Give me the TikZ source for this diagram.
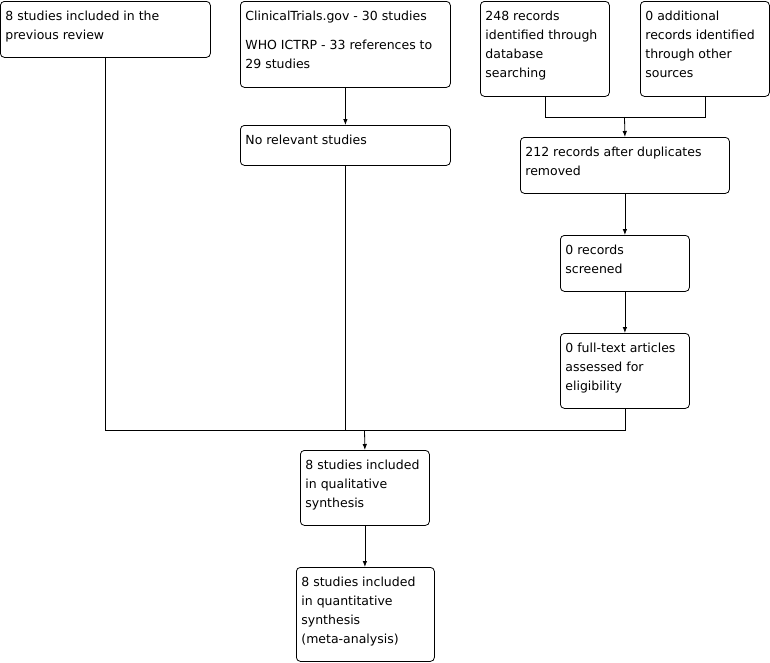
\documentclass[tikz,border=0pt]{standalone}
\usepackage{fontspec}
\setmainfont{DejaVu Sans}
\usetikzlibrary{arrows.meta}

% text of a box: width, height, lines (set from the top left)
\newcommand{\boxtext}[3]{\parbox[c][#2][t]{#1}{\fontsize{12.5}{19}\selectfont\leftskip=5pt\rule{0pt}{19.5pt}#3}}

\begin{document}
\begin{tikzpicture}[x=1pt, y=-1pt, line width=0.8pt,
    box/.style={draw, rounded corners=4pt, inner sep=0pt, anchor=north west},
    arr/.style={-{Latex[length=6pt,width=4.5pt]}}]
    \useasboundingbox (0,0) rectangle (770,662);
    % sources
    \node[box] (prev) at (0,1) {\boxtext{210pt}{56pt}{8 studies included in the\\previous review}};
    \node[box] (trials) at (240,1) {\boxtext{210pt}{86pt}{ClinicalTrials.gov - 30 studies\\[10pt]WHO ICTRP - 33 references to\\29 studies}};
    \node[box] (norel) at (240,125) {\boxtext{210pt}{40pt}{No relevant studies}};
    \node[box] (dbase) at (480,1) {\boxtext{129pt}{95pt}{248 records\\identified through\\database\\searching}};
    \node[box] (other) at (640,1) {\boxtext{129pt}{95pt}{0 additional\\records identified\\through other\\sources}};
    % screening
    \node[box] (dupl) at (520,137) {\boxtext{209pt}{56pt}{212 records after duplicates\\removed}};
    \node[box] (screen) at (560,235) {\boxtext{129pt}{56pt}{0 records\\screened}};
    \node[box] (full) at (560,333) {\boxtext{129pt}{75pt}{0 full-text articles\\assessed for\\eligibility}};
    % included
    \node[box] (qual) at (300,450) {\boxtext{129pt}{75pt}{8 studies included\\in qualitative\\synthesis}};
    \node[box] (quant) at (296,567) {\boxtext{138pt}{94pt}{8 studies included\\in quantitative\\synthesis\\(meta-analysis)}};
    % joins
    \coordinate (joinrec) at (624.5,117);
    \coordinate (joinall) at (364.5,430);
    % connectors
    \draw[arr] (trials.south) -- (norel.north);
    \draw (dbase.south) |- (joinrec);
    \draw (other.south) |- (joinrec);
    \draw[arr] (joinrec) -- (dupl.north);
    \draw[arr] (dupl.south) -- (screen.north);
    \draw[arr] (screen.south) -- (full.north);
    \draw (prev.south) |- (joinall);
    \draw (norel.south) |- (joinall);
    \draw (full.south) |- (joinall);
    \draw[arr] (joinall) -- (qual.north);
    \draw[arr] (qual.south) -- (qual.south |- quant.north);
\end{tikzpicture}
\end{document}
